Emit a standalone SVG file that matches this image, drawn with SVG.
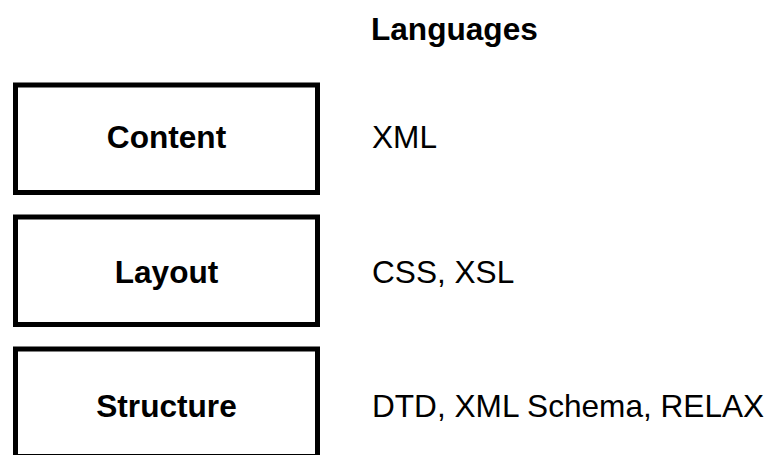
<svg xmlns="http://www.w3.org/2000/svg" width="774" height="455" viewBox="0 0 774 455">
<style>
.box{fill:#fff;stroke:#000;stroke-width:5}
.lbl{font-family:"Liberation Sans",Arial,sans-serif;font-size:31.6px;font-weight:bold;text-anchor:middle;fill:#000}
.lang{font-family:"Liberation Sans",Arial,sans-serif;font-size:31.6px;fill:#000}
.head{font-family:"Liberation Sans",Arial,sans-serif;font-size:31.6px;font-weight:bold;fill:#000}
</style>
<rect width="774" height="455" fill="#fff"/>
<text class="head" x="371" y="40">Languages</text>
<g id="content">
<rect class="box" x="15.5" y="85" width="302" height="107.5"/>
<text class="lbl" x="166.5" y="148">Content</text>
</g>
<g id="layout">
<rect class="box" x="15.5" y="217" width="302" height="107.5"/>
<text class="lbl" x="166.5" y="283">Layout</text>
</g>
<g id="structure">
<rect class="box" x="15.5" y="349" width="302" height="107.5"/>
<text class="lbl" x="166.5" y="417">Structure</text>
</g>
<g id="connectors"></g>
<text class="lang" x="372" y="148">XML</text>
<text class="lang" x="372" y="283">CSS, XSL</text>
<text class="lang" x="372" y="417">DTD, XML Schema, RELAX</text>
</svg>
